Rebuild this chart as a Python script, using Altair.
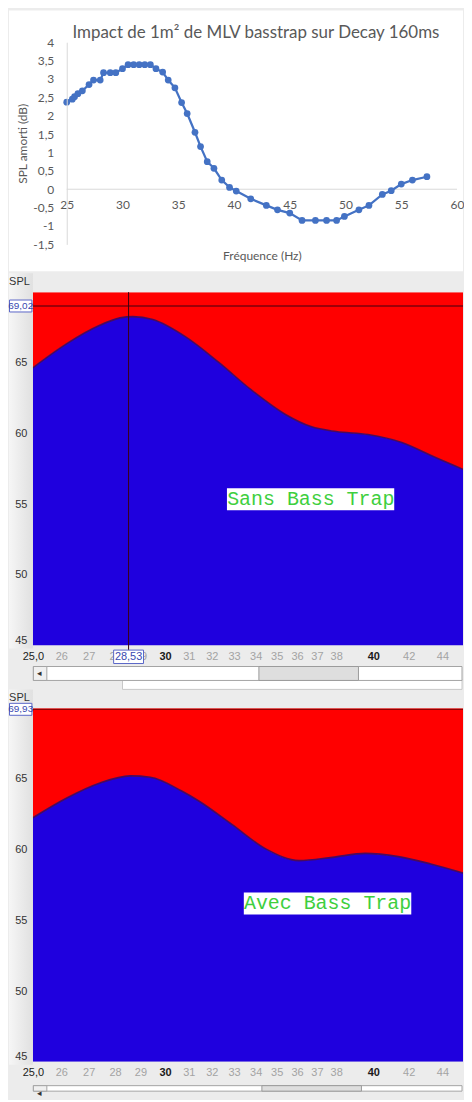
import altair as alt
import pandas as pd

# ---------------- data ----------------
# Top chart (Excel): impact of 1 m² MLV bass trap
impact_freq = [25.0, 25.5, 25.7, 26.0, 26.4, 27.0, 27.4, 28.0, 28.3, 28.9, 29.4, 30.0, 30.5, 31.0, 31.5,
               32.0, 32.5, 33.0, 33.6, 34.1, 34.7, 35.3, 35.8, 36.5, 37.0, 37.6, 38.2, 38.9, 39.6, 40.2,
               41.5, 42.9, 43.9, 45.0, 46.1, 47.3, 48.3, 49.2, 49.9, 51.2, 52.1, 53.3, 54.1, 55.0, 56.0, 57.3]
impact_db = [2.37, 2.45, 2.52, 2.6, 2.68, 2.85, 2.97, 2.97, 3.17, 3.17, 3.17, 3.28, 3.39, 3.39, 3.39,
             3.39, 3.39, 3.28, 3.19, 2.97, 2.76, 2.36, 2.06, 1.55, 1.16, 0.75, 0.57, 0.25, 0.05, -0.05,
             -0.26, -0.44, -0.56, -0.65, -0.85, -0.85, -0.85, -0.85, -0.74, -0.56, -0.44, -0.14, -0.04, 0.14, 0.25, 0.34]
top_x_ticks = [25, 30, 35, 40, 45, 50, 55, 60]
top_y_ticks = [-1.5, -1, -0.5, 0, 0.5, 1, 1.5, 2, 2.5, 3, 3.5, 4]
top_title = "Impact de 1m\u00b2 de MLV basstrap sur Decay 160ms"

# SPL screenshots
sans_freq = [25.0, 26.2, 27.4, 28.2, 28.7, 29.5, 30.9, 32.3, 33.8, 35.45, 36.7, 38.0, 39.7, 41.6, 43.55, 46.0]
sans_spl = [64.65, 66.36, 67.64, 68.18, 68.27, 68.06, 66.8, 65.05, 63.08, 61.33, 60.49, 60.14, 59.93, 59.37, 58.32, 57.12]
avec_freq = [25.0, 26.2, 27.4, 28.6, 29.4, 30.7, 31.45, 32.9, 34.5, 36.1, 37.8, 39.55, 41.4, 43.3, 46.0]
avec_spl = [62.26, 63.66, 64.7, 65.22, 65.13, 64.15, 63.43, 61.79, 60.04, 59.23, 59.46, 59.74, 59.51, 58.99, 58.1]
freq_ticks = [25, 26, 27, 28, 29, 30, 31, 32, 33, 34, 35, 36, 37, 38, 40, 42, 44]
spl_ticks = [45, 50, 55, 60, 65]
spl_domain = [45, 70]
freq_domain = [25, 45.27]

sans_cursor_freq = [28.53]
sans_cursor_spl = [69.02]
avec_cursor_spl = [69.93]

sans_label = ["Sans Bass Trap"]
sans_box_freq = [32.68, 41.17, 36.69]
sans_box_spl = [54.58, 56.13, 55.35]
avec_label = ["Avec Bass Trap"]
avec_box_freq = [33.45, 42.15, 37.55]
avec_box_spl = [55.42, 56.97, 56.2]

# ---------------- layout constants ----------------
W1, H1 = 426, 203
W2, H2 = 432, 355
BG = "#ececec"
one = pd.DataFrame({"a": [0]})

# ---------------- top chart ----------------
xs1 = alt.Scale(domain=[21.964, 60], nice=False, zero=False)
ys1 = alt.Scale(domain=[-1.5, 4], nice=False, zero=False)
ax_x1 = alt.Axis(values=top_x_ticks, offset=-55.36, domain=False, ticks=False, grid=False,
                 labelFlush=False, labelOverlap=False, labelFont="Lato", labelFontSize=12,
                 labelColor="#595959", labelPadding=10, title="Fr\u00e9quence (Hz)", titleFont="Lato",
                 titleFontSize=12, titleFontWeight="normal", titleColor="#595959", titleX=230,
                 titleY=67, titleAlign="center", titleBaseline="middle", zindex=1)
ax_y1 = alt.Axis(values=top_y_ticks, offset=-34, domain=True, domainColor="#d9d9d9", domainWidth=1,
                 ticks=False, grid=False, labelFont="Lato", labelFontSize=12, labelColor="#595959",
                 labelPadding=13,
                 labelExpr="replace(replace(format(datum.value, '~g'), '.', ','), '\u2212', '-')",
                 title="SPL amorti (dB)", titleFont="Lato", titleFontSize=12, titleFontWeight="normal",
                 titleColor="#595959", titleX=-44, titleY=101.5, titleAngle=270, titleAlign="center",
                 titleBaseline="middle", zindex=1)

df1 = pd.DataFrame({"f": impact_freq, "db": impact_db})
white = alt.Chart(one).mark_rect(fill="white").encode(
    x=alt.value(-24), x2=alt.value(W2), y=alt.value(-32), y2=alt.value(230))
ttl = alt.Chart(one).mark_text(text=top_title, font="Lato", fontSize=17, color="#595959",
                               align="center", baseline="alphabetic").encode(
    x=alt.value(224), y=alt.value(-4.5))
zero = alt.Chart(pd.DataFrame({"f": [25], "f2": [60], "z": [0]})).mark_rule(
    color="#d9d9d9", strokeWidth=1).encode(
    x=alt.X("f:Q", scale=xs1, axis=ax_x1), x2="f2", y=alt.Y("z:Q", scale=ys1, axis=ax_y1))
line1 = alt.Chart(df1).mark_line(color="#4472c4", strokeWidth=2.25).encode(
    x=alt.X("f:Q", scale=xs1, axis=ax_x1), y=alt.Y("db:Q", scale=ys1, axis=ax_y1))
pts1 = alt.Chart(df1).mark_point(filled=True, size=46, color="#4472c4", opacity=1).encode(
    x=alt.X("f:Q", scale=xs1, axis=ax_x1), y=alt.Y("db:Q", scale=ys1, axis=ax_y1))
top = alt.layer(white, ttl, zero, line1, pts1).properties(width=W1, height=H1)


# ---------------- SPL panels ----------------
def panel(freq, spl, label, box_f, box_s, cursor_spl, cursor_freq, thumb, bottom):
    xs = alt.Scale(type="log", domain=freq_domain, nice=False)
    ys = alt.Scale(domain=spl_domain, nice=False, zero=False)
    ax_x = alt.Axis(values=freq_ticks, domain=False, ticks=False, tickSize=0, grid=False,
                    labelFlush=False, labelOverlap=False, labelPadding=5,
                    labelFont="Liberation Sans", labelFontSize=11,
                    labelExpr="datum.value == 25 ? '25,0' : format(datum.value, 'd')",
                    labelColor={"expr": "(datum.value == 25 || datum.value == 30 || datum.value == 40) ? '#1a1a1a' : '#a3a3a3'"},
                    labelFontWeight={"expr": "(datum.value == 30 || datum.value == 40) ? 'bold' : 'normal'"},
                    title=None, zindex=0)
    ax_y = alt.Axis(values=spl_ticks, domain=False, ticks=False, tickSize=0, grid=False,
                    labelFlush=True, labelPadding=6, labelFont="Liberation Sans", labelFontSize=11,
                    labelColor="#333333", title="SPL", titleAngle=0, titleX=-14, titleY=-11,
                    titleAlign="center", titleBaseline="middle", titleFont="Liberation Sans",
                    titleFontSize=11, titleFontWeight="normal", titleColor="#333333", zindex=1)

    def X(f):
        return alt.X(f, type="quantitative", scale=xs, axis=ax_x)

    def Y(f):
        return alt.Y(f, type="quantitative", scale=ys, axis=ax_y)

    df = pd.DataFrame({"f": freq, "s": spl, "top": [spl_domain[1]] * len(freq),
                       "bot": [spl_domain[0]] * len(freq)})
    layers = []
    # left strip gradient (window chrome)
    layers.append(alt.Chart(one).mark_rect(
        fill=alt.Gradient(gradient="linear", x1=0, x2=1, y1=0, y2=0,
                          stops=[alt.GradientStop(color="#f6f6f6", offset=0),
                                 alt.GradientStop(color="#e0e0e0", offset=1)])).encode(
        x=alt.value(-24), x2=alt.value(0), y=alt.value(-19), y2=alt.value(H2 + 3)))
    layers.append(alt.Chart(df).mark_area(color="#ff0000", interpolate="monotone", clip=True).encode(
        x=X("f"), y=Y("s"), y2="top"))
    layers.append(alt.Chart(df).mark_area(color="#1f00de", interpolate="monotone", clip=True).encode(
        x=X("f"), y=Y("s"), y2="bot"))
    layers.append(alt.Chart(df).mark_line(color="#4a0a5e", strokeWidth=1.6, interpolate="monotone",
                                          clip=True).encode(x=X("f"), y=Y("s")))
    # cursor lines
    layers.append(alt.Chart(pd.DataFrame({"s": cursor_spl})).mark_rule(
        color="#3a0010" if cursor_freq else "#7a0000", strokeWidth=1).encode(
        y=Y("s"), x=alt.value(0), x2=alt.value(W2)))
    if cursor_freq:
        layers.append(alt.Chart(pd.DataFrame({"f": cursor_freq})).mark_rule(
            color="#3a0010", strokeWidth=1).encode(x=X("f"), y=alt.value(0), y2=alt.value(H2 + 5)))
    # annotation box
    ann = pd.DataFrame({"x1": [box_f[0]], "x2": [box_f[1]], "xc": [box_f[2]],
                        "y1": [box_s[0]], "y2": [box_s[1]], "yc": [box_s[2]], "t": label})
    layers.append(alt.Chart(ann).mark_rect(fill="white").encode(
        x=X("x1"), x2="x2", y=Y("y1"), y2="y2"))
    layers.append(alt.Chart(ann).mark_text(font="Liberation Mono", fontSize=20, color="#3ecf3e",
                                           align="center", baseline="middle").encode(
        x=X("xc"), y=Y("yc"), text="t"))
    # cursor value boxes
    cs = pd.DataFrame({"s": cursor_spl, "t": [f"{v:.2f}".replace(".", ",") for v in cursor_spl]})
    layers.append(alt.Chart(cs).mark_rect(fill="white", stroke="#5a66c8", strokeWidth=1,
                                          yOffset=-6, y2Offset=6).encode(
        y=Y("s"), y2="s", x=alt.value(-23.5), x2=alt.value(-1)))
    layers.append(alt.Chart(cs).mark_text(font="Liberation Sans", fontSize=10, color="#3848b0",
                                          align="center", baseline="middle").encode(
        y=Y("s"), x=alt.value(-12.2), text="t"))
    if cursor_freq:
        cf = pd.DataFrame({"f": cursor_freq, "t": [f"{v:.2f}".replace(".", ",") for v in cursor_freq]})
        layers.append(alt.Chart(cf).mark_rect(fill="white", stroke="#5a66c8", strokeWidth=1,
                                              xOffset=-15, x2Offset=15).encode(
            x=X("f"), x2="f", y=alt.value(H2 + 4.5), y2=alt.value(H2 + 18)))
        layers.append(alt.Chart(cf).mark_text(font="Liberation Sans", fontSize=11, color="#3848b0",
                                              align="center", baseline="middle").encode(
            x=X("f"), y=alt.value(H2 + 11.5), text="t"))
    # scrollbar (window chrome)
    sb_top = H2 + 21 if cursor_freq else H2 + 24
    sb_bot = min(sb_top + 14, bottom - 0.5)
    layers.append(alt.Chart(one).mark_rect(fill=BG).encode(
        x=alt.value(0), x2=alt.value(1), y=alt.value(H2 + 19), y2=alt.value(bottom)))
    if cursor_freq:
        # next window frame below the scrollbar
        layers.append(alt.Chart(one).mark_rect(fill="white", stroke="#c8c8c8", strokeWidth=1).encode(
            x=alt.value(90), x2=alt.value(W2 - 1), y=alt.value(sb_top + 13), y2=alt.value(bottom)))
    layers.append(alt.Chart(one).mark_rect(fill="white", stroke="#a3a3a3", strokeWidth=1).encode(
        x=alt.value(0.5), x2=alt.value(W2 - 1), y=alt.value(sb_top), y2=alt.value(sb_bot)))
    layers.append(alt.Chart(one).mark_rect(fill="#f0f0f0", stroke="#a3a3a3", strokeWidth=1).encode(
        x=alt.value(0.5), x2=alt.value(14), y=alt.value(sb_top), y2=alt.value(sb_bot)))
    layers.append(alt.Chart(one).mark_rect(fill="#dedede", stroke="#9a9a9a", strokeWidth=1).encode(
        x=alt.value(thumb[0]), x2=alt.value(thumb[1]), y=alt.value(sb_top), y2=alt.value(sb_bot)))
    layers.append(alt.Chart(one).mark_text(text="\u25c2", fontSize=9, color="#333333",
                                           align="center", baseline="middle").encode(
        x=alt.value(7), y=alt.value(sb_top + 7)))
    return alt.layer(*layers).properties(width=W2, height=H2)


def spacer(h):
    return alt.Chart(one).mark_text(text=" ").encode(
        x=alt.value(0), y=alt.value(0)).properties(width=1, height=h)


p2 = panel(sans_freq, sans_spl, sans_label, sans_box_freq, sans_box_spl,
           sans_cursor_spl, sans_cursor_freq, (227, 327), 399)
p3 = panel(avec_freq, avec_spl, avec_label, avec_box_freq, avec_box_spl,
           avec_cursor_spl, None, (230, 330), 385)

chart = alt.vconcat(top, spacer(8), p2, spacer(23), p3, spacing=20, bounds="flush",
                    padding=0, background=BG).configure_view(stroke=None)

chart.save("out.html", embed_options={"renderer": "svg", "actions": False})
